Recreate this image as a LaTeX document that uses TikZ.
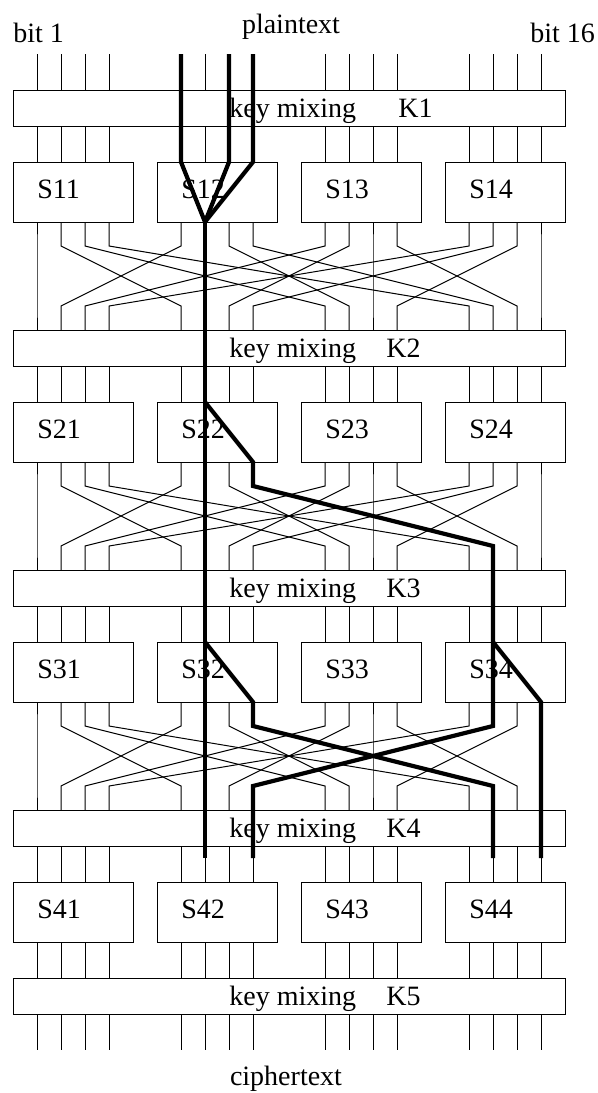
\documentclass[tikz,border=0pt]{standalone}
\usepackage{fontspec}
\setmainfont{Liberation Serif}
\tikzset{
  wire/.style={line width=0.5pt},
  box/.style={line width=0.5pt},
  trail/.style={line width=2.1pt},
  lbl/.style={anchor=base west, inner sep=0pt},
}
\begin{document}
\begin{tikzpicture}[x=0.5pt,y=-0.5pt,font=\fontsize{14}{16}\selectfont]
\useasboundingbox (0,0) rectangle (598,1093);

% input / output labels
\node[lbl] (bitone) at (13,42) {bit 1};
\node[lbl] (bitlast) at (530,42) {bit 16};
\node[anchor=base, inner sep=0pt] (plain) at (291,33) {plaintext};
\node[anchor=base, inner sep=0pt] (cipher) at (286,1085) {ciphertext};

% key mixing stages
\foreach \r/\t/\kx in {1/90/398,2/330/386,3/570/386,4/810/386,5/978/386} {
  \draw[box] (13,\t) rectangle (565,\t+36);
  \node[lbl] (mix\r) at (229,\t+27) {key mixing};
  \node[lbl] (key\r) at (\kx,\t+27) {K\r};
}

% substitution boxes
\foreach \r in {1,...,4} {
  \foreach \g in {1,...,4} {
    \pgfmathsetmacro{\sx}{13+144*(\g-1)}
    \pgfmathsetmacro{\sy}{162+240*(\r-1)}
    \draw[box] (\sx,\sy) rectangle (\sx+120,\sy+60);
    \node[lbl] (S\r\g) at (\sx+24,\sy+36) {S\r\g};
  }
}

% plain wires (in, key->S, S4->K5, out)
\foreach \g in {0,...,3} {
  \foreach \k in {0,...,3} {
    \pgfmathsetmacro{\bx}{37+144*\g+24*\k}
    \draw[wire] (\bx,54) -- (\bx,90);
    \foreach \r in {0,...,3} {
      \draw[wire] (\bx,126+240*\r) -- (\bx,162+240*\r);
    }
    \draw[wire] (\bx,942) -- (\bx,978);
    \draw[wire] (\bx,1014) -- (\bx,1050);
  }
}

% permutation layers
\foreach \r in {0,...,2} {
  \foreach \g in {0,...,3} {
    \foreach \k in {0,...,3} {
      \pgfmathsetmacro{\ax}{37+144*\g+24*\k}
      \pgfmathsetmacro{\bx}{37+144*\k+24*\g}
      \draw[wire] (\ax,222+240*\r) -- (\ax,246+240*\r) -- (\bx,306+240*\r) -- (\bx,330+240*\r);
    }
  }
}

% highlighted trail
\foreach \x in {181,229,253} {
  \draw[trail] (\x,54) -- (\x,162) -- (205,222);
}
\draw[trail] (205,222) -- (205,858);
\draw[trail] (205,402) -- (253,462) -- (253,486) -- (493,546) -- (493,726) -- (253,786) -- (253,858);
\draw[trail] (205,642) -- (253,702) -- (253,726) -- (493,786) -- (493,858);
\draw[trail] (493,642) -- (541,702) -- (541,858);

\end{tikzpicture}
\end{document}
